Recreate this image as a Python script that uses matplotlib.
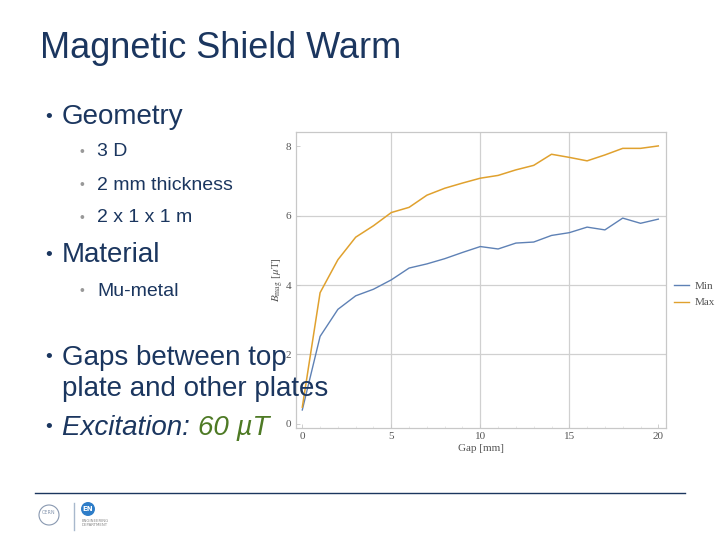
import matplotlib.pyplot as plt
from matplotlib.lines import Line2D
from matplotlib.patches import Ellipse

plt.rcParams['mathtext.fontset'] = 'stix'

gap_mm = list(range(0, 21))
b_min = [0.40, 2.52, 3.30, 3.69, 3.88, 4.15, 4.49, 4.61, 4.76, 4.94, 5.11,
         5.04, 5.21, 5.24, 5.43, 5.51, 5.67, 5.59, 5.93, 5.78, 5.90]
b_max = [0.48, 3.78, 4.73, 5.38, 5.71, 6.09, 6.24, 6.59, 6.79, 6.94, 7.08,
         7.16, 7.32, 7.45, 7.77, 7.68, 7.58, 7.75, 7.94, 7.94, 8.01]
x_ticks = [0, 5, 10, 15, 20]
y_ticks = [0, 2, 4, 6, 8]
series_names = ['Min', 'Max']

navy = '#1B365F'
blue = '#5E81B5'
orange = '#E0A12E'
serif = ['Liberation Serif', 'DejaVu Serif']
sans = ['Liberation Sans', 'DejaVu Sans']

fig = plt.figure(figsize=(7.2, 5.4), dpi=100)

# chart (Mathematica style)
ax = fig.add_axes([0.4107, 0.2074, 0.514, 0.5487])
ax.plot(gap_mm, b_min, color=blue, lw=1.0)
ax.plot(gap_mm, b_max, color=orange, lw=1.1)
ax.set_xlim(-0.37, 20.42)
ax.set_ylim(-0.12, 8.42)
ax.set_xticks(x_ticks)
ax.set_yticks(y_ticks)
ax.set_xticks([1, 2, 3, 4, 6, 7, 8, 9, 11, 12, 13, 14, 16, 17, 18, 19], minor=True)
for v in [5, 10, 15]:
    ax.axvline(v, color='#D0D0D0', lw=0.9, zorder=0)
for v in [2, 4, 6]:
    ax.axhline(v, color='#D0D0D0', lw=0.9, zorder=0)
for s in ax.spines.values():
    s.set_color('#C8C8C8')
    s.set_linewidth(0.9)
ax.tick_params(direction='in', length=3, width=0.6, colors='#C8C8C8',
               labelcolor='#555555', labelsize=8, pad=3)
ax.tick_params(which='minor', direction='in', length=1.5, width=0.5, colors='#DDDDDD')
for lab in ax.get_xticklabels() + ax.get_yticklabels():
    lab.set_fontfamily(serif)
ax.set_xlabel('Gap [mm]', fontsize=8, color='#555555', family=serif, labelpad=2)
ax.set_ylabel(r'$B_{\rm mag}$ [$\mu$T]', fontsize=8, color='#555555', family=serif, labelpad=0)

handles = [Line2D([], [], color=blue, lw=1.0), Line2D([], [], color=orange, lw=1.0)]
leg = fig.legend(handles, series_names, loc='center left', bbox_to_anchor=(0.922, 0.455),
                 frameon=False, handlelength=1.4, handletextpad=0.5, labelspacing=0.6,
                 prop={'family': serif, 'size': 8})
for t in leg.get_texts():
    t.set_color('#555555')

# slide text
H = 540.0
def ty(y):
    return 1 - y / H

fig.text(40 / 720, ty(48), 'Magnetic Shield Warm', fontsize=26, color=navy,
         va='center', ha='left', family=sans)

big = [('Geometry', 117), ('Material', 255), ('Gaps between top', 358)]
for txt, y in big:
    fig.text(45 / 720, ty(y), '•', fontsize=14, color=navy, va='center', family=sans)
    fig.text(62 / 720, ty(y), txt, fontsize=20, color=navy, va='center', family=sans)
fig.text(62 / 720, ty(389), 'plate and other plates', fontsize=20, color=navy,
         va='center', family=sans)
fig.text(45 / 720, ty(428), '•', fontsize=14, color=navy, va='center', family=sans)
t1 = fig.text(62 / 720, ty(428), 'Excitation: ', fontsize=20, color=navy,
              va='center', style='italic', family=sans)
fig.canvas.draw()
bb = t1.get_window_extent()
fig.text(bb.x1 / 720, ty(428), '60 µT', fontsize=20, color='#4E7A25',
         va='center', style='italic', family=sans)

small = [('3 D', 152), ('2 mm thickness', 185), ('2 x 1 x 1 m', 218), ('Mu-metal', 291)]
for txt, y in small:
    fig.text(79 / 720, ty(y), '•', fontsize=10, color='#999999', va='center', family=sans)
    fig.text(97 / 720, ty(y), txt, fontsize=14, color=navy, va='center', family=sans)

# footer
fig.add_artist(Line2D([35 / 720, 685 / 720], [ty(493), ty(493)], color=navy, lw=1.0))
fig.add_artist(Line2D([74 / 720, 74 / 720], [ty(503), ty(530)], color='#A8B8CC', lw=1.0))
fig.add_artist(Ellipse((49 / 720, ty(515)), 20 / 720, 20 / 540, fill=False, ec='#8898B0',
                       lw=0.8, transform=fig.transFigure))
fig.text(49 / 720, ty(513), 'CERN', fontsize=3.5, color='#8898B0', ha='center', va='center')
fig.add_artist(Ellipse((88 / 720, ty(509)), 14 / 720, 14 / 540, fc='#2E7DC8', ec='none',
                       transform=fig.transFigure))
fig.text(88 / 720, ty(509), 'EN', fontsize=5, color='white', ha='center', va='center',
         weight='bold')
fig.text(82 / 720, ty(523), 'ENGINEERING\nDEPARTMENT', fontsize=2.8, color='#888888',
         ha='left', va='center', linespacing=1.1)

fig.savefig('out.png', dpi=100)
